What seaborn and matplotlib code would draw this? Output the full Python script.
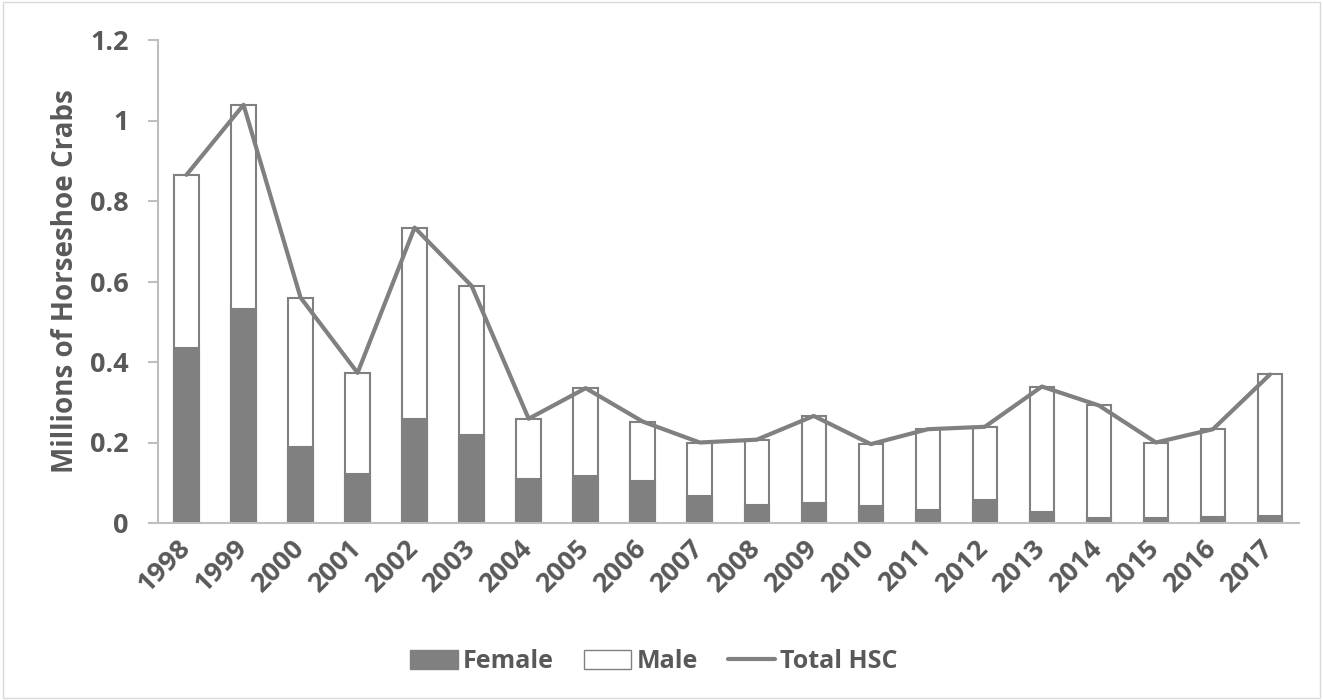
import numpy as np
import pandas as pd
import matplotlib
matplotlib.use("Agg")
import matplotlib.pyplot as plt
import seaborn as sns
from matplotlib.patches import Patch, Rectangle
from matplotlib.lines import Line2D

years = [str(y) for y in range(1998, 2018)]
female = [0.436, 0.531, 0.189, 0.121, 0.258, 0.219, 0.109, 0.117, 0.104, 0.067,
          0.044, 0.049, 0.041, 0.032, 0.056, 0.028, 0.013, 0.012, 0.015, 0.017]
total = [0.865, 1.039, 0.560, 0.373, 0.734, 0.589, 0.259, 0.335, 0.252, 0.200,
         0.207, 0.266, 0.196, 0.233, 0.239, 0.339, 0.292, 0.200, 0.233, 0.369]
yticks = [0, 0.2, 0.4, 0.6, 0.8, 1.0, 1.2]
ytick_labels = ["0", "0.2", "0.4", "0.6", "0.8", "1", "1.2"]

df = pd.DataFrame({"Year": years, "Female": female, "Total": total})
df["pos"] = np.arange(len(df))

sns.set_theme(style="white")
plt.rcParams["font.family"] = ["Open Sans", "DejaVu Sans"]

GRAY = "#808080"
TEXT = "#595959"
AXC = "#bfbfbf"
FS_TICK = 19.5

fig = plt.figure(figsize=(13.23, 7.0), dpi=100)
ax = fig.add_axes([158/1323, 1-523/700, (1298.5-158)/1323, (523-40)/700])

sns.barplot(data=df, x="Year", y="Total", color="white", edgecolor=GRAY,
            linewidth=1.5, width=0.43, ax=ax, saturation=1)
sns.barplot(data=df, x="Year", y="Female", color=GRAY, edgecolor=GRAY,
            linewidth=1.5, width=0.43, ax=ax, saturation=1)
sns.lineplot(data=df, x="pos", y="Total", color=GRAY, linewidth=3.0, ax=ax)

ax.set_xlim(-0.5, len(df) - 0.5)
ax.set_ylim(0, 1.2)
ax.set_yticks(yticks)
ax.set_yticklabels(ytick_labels, fontsize=FS_TICK, fontweight="bold", color=TEXT)
ax.set_xticks(np.arange(len(df)))
ax.set_xticklabels(years, rotation=45, ha="right", va="center", rotation_mode="anchor",
                   fontsize=FS_TICK, fontweight="bold", color=TEXT)
ax.set_xlabel("")
ax.set_ylabel("Millions of Horseshoe Crabs", fontsize=20, fontweight="bold",
              color=TEXT, labelpad=7)

for s in ["top", "right"]:
    ax.spines[s].set_visible(False)
for s in ["left", "bottom"]:
    ax.spines[s].set_color(AXC)
    ax.spines[s].set_linewidth(1.5)
ax.tick_params(axis="y", length=7, width=1.5, color=AXC, left=True, pad=14)
ax.tick_params(axis="x", length=0, pad=15)

handles = [Patch(facecolor=GRAY, edgecolor=GRAY, label="Female"),
           Patch(facecolor="white", edgecolor=GRAY, label="Male"),
           Line2D([0], [0], color=GRAY, linewidth=3.0, label="Total HSC")]
leg = fig.legend(handles=handles, loc="center", bbox_to_anchor=(654/1323, 1-662/700),
                 ncol=3, frameon=False, handlelength=1.9, handleheight=0.8,
                 columnspacing=1.2, handletextpad=0.2,
                 prop={"size": 18, "weight": "bold"})
for t in leg.get_texts():
    t.set_color(TEXT)

fig.patches.append(Rectangle((0.002, 0.003), 0.996, 0.994, transform=fig.transFigure,
                             fill=False, edgecolor="#d9d9d9", linewidth=1))

fig.savefig("out.png", dpi=100)
